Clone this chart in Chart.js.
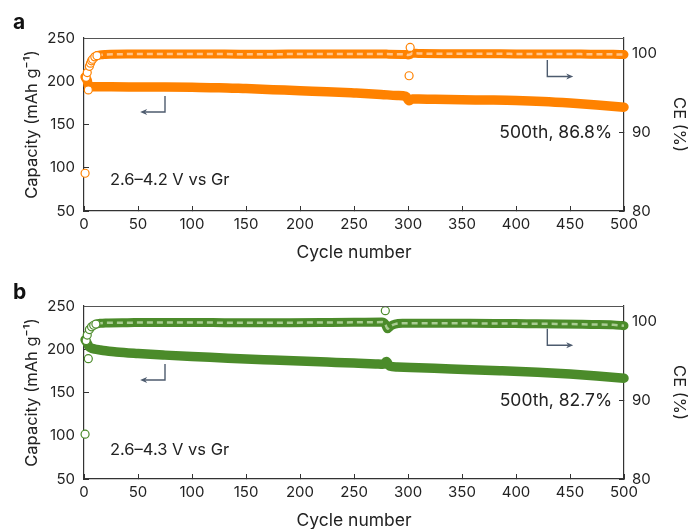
<!DOCTYPE html>
<html>
<head>
<meta charset="utf-8">
<title>Capacity and CE vs cycle number</title>
<script src="https://cdn.jsdelivr.net/npm/chart.js@4.4.1/dist/chart.umd.min.js"></script>
<style>
  body { margin: 0; background: #fff; }
  .panel { position: absolute; left: 0; width: 688px; }
</style>
</head>
<body>
<div class="panel" style="top:0;height:264px"><canvas id="chartA" width="688" height="264"></canvas></div>
<div class="panel" style="top:264px;height:265px"><canvas id="chartB" width="688" height="265"></canvas></div>
<script>
// ---- panel a (2.6-4.2 V) ----
var capCyclesA = [1, 2, 3, 4, 6, 10, 25, 50, 75, 100, 125, 150, 175, 200, 225, 250, 275, 290, 298, 301, 304, 310, 325, 350, 375, 400, 425, 450, 475, 500];
var capacityA  = [205, 203, 201, 194.5, 193.5, 193.5, 193.5, 193.4, 193.3, 193.0, 192.6, 191.5, 190.3, 189.0, 188.0, 186.5, 184.8, 183.5, 182.5, 177.5, 179.6, 179.5, 179.1, 178.6, 178.3, 177.8, 176.7, 174.9, 172.6, 170.0];
var ceOutCyclesA = [1, 4, 301, 302];
var ceOutA       = [84.8, 95.4, 97.2, 100.8];
var ceArcCyclesA = [2, 3, 5, 6, 7, 8, 10, 12];
var ceArcA       = [97.0, 97.6, 98.4, 98.8, 99.1, 99.3, 99.6, 99.75];
var ceCyclesA = [12, 15, 20, 40, 60, 80, 100, 130, 160, 190, 220, 250, 280, 298, 300, 302, 304, 307, 312, 340, 370, 400, 430, 460, 490, 500];
var ceA       = [99.75, 99.85, 99.9, 99.95, 99.95, 99.97, 99.95, 99.95, 99.94, 99.95, 99.95, 99.96, 99.95, 99.9, 99.85, 99.9, 100.05, 100.05, 100.02, 100.0, 100.0, 99.98, 99.98, 99.95, 99.92, 99.9];

// ---- panel b (2.6-4.3 V) ----
var capCyclesB = [1, 2, 3, 4, 5, 7, 10, 15, 20, 30, 50, 75, 100, 125, 150, 175, 200, 225, 250, 270, 277, 280, 283, 290, 310, 340, 385, 420, 450, 475, 500];
var capacityB  = [211, 209, 207, 204.5, 202.5, 201.2, 200.2, 199.2, 198.3, 196.8, 195.0, 193.2, 191.6, 190.2, 188.8, 187.6, 186.4, 185.2, 184.0, 183.0, 182.6, 185.8, 180.6, 179.5, 178.6, 177.2, 175.2, 173.4, 171.4, 169.2, 166.5];
var ceOutCyclesB = [1, 4, 279];
var ceOutB       = [85.7, 95.3, 101.4];
var ceArcCyclesB = [2, 3, 5, 7, 9, 11];
var ceArcB       = [97.6, 98.3, 99.0, 99.35, 99.55, 99.7];
var ceCyclesB = [12, 15, 20, 40, 70, 100, 130, 160, 190, 220, 250, 276, 279, 281, 284, 288, 295, 320, 350, 380, 410, 440, 470, 490, 500];
var ceB       = [99.72, 99.8, 99.85, 99.88, 99.9, 99.9, 99.88, 99.86, 99.88, 99.9, 99.92, 99.95, 99.7, 99.1, 99.45, 99.7, 99.8, 99.82, 99.8, 99.78, 99.75, 99.72, 99.65, 99.6, 99.5];

var xTicks = [0, 50, 100, 150, 200, 250, 300, 350, 400, 450, 500];
var capTicks = [50, 100, 150, 200, 250];
var ceTicks = [80, 90, 100];

var FONT = 'Inter, "DejaVu Sans", sans-serif';
var INK = '#222';
var AXIS = '#333';
var ARROW = '#4d5b6e';

function pts(xs, ys) {
  return xs.map(function (c, i) { return {x: c, y: ys[i]}; });
}

// letters, notes and the little axis-pointing arrows
var extras = {
  id: 'extras',
  afterDraw: function (chart, args, o) {
    var ctx = chart.ctx, x = chart.scales.x, y = chart.scales.y, y1 = chart.scales.y1;
    var area = chart.chartArea;
    ctx.save();
    // top frame line
    ctx.strokeStyle = '#555';
    ctx.lineWidth = 1;
    ctx.beginPath();
    ctx.moveTo(area.left, area.top + 0.5);
    ctx.lineTo(area.right, area.top + 0.5);
    ctx.stroke();

    ctx.fillStyle = '#111';
    ctx.font = 'bold 21px ' + FONT;
    ctx.textAlign = 'left';
    ctx.textBaseline = 'alphabetic';
    ctx.fillText(o.letter, 13, o.letterY);

    ctx.fillStyle = INK;
    ctx.font = '16.5px ' + FONT;
    ctx.textBaseline = 'middle';
    ctx.fillText(o.range, x.getPixelForValue(24), y.getPixelForValue(o.rangeCap));
    ctx.font = '17.5px ' + FONT;
    ctx.textAlign = 'right';
    ctx.fillText(o.note, x.getPixelForValue(489), y1.getPixelForValue(90));

    function arrow(xv1, yv1, yv2, xv2, sc, dir) {
      var px = x.getPixelForValue(xv1), py1 = sc.getPixelForValue(yv1), py2 = sc.getPixelForValue(yv2);
      var ex = x.getPixelForValue(xv2);
      ctx.strokeStyle = ARROW;
      ctx.fillStyle = ARROW;
      ctx.lineWidth = 1.4;
      ctx.beginPath();
      ctx.moveTo(px, py1);
      ctx.lineTo(px, py2);
      ctx.lineTo(ex - dir * 5, py2);
      ctx.stroke();
      ctx.beginPath();
      ctx.moveTo(ex, py2);
      ctx.lineTo(ex - dir * 7, py2 - 3);
      ctx.lineTo(ex - dir * 5, py2);
      ctx.lineTo(ex - dir * 7, py2 + 3);
      ctx.closePath();
      ctx.fill();
    }
    arrow(75, 183, 164.5, 52, y, -1);
    arrow(429, o.arrowCe[0], o.arrowCe[1], 453, y1, 1);
    ctx.restore();
  }
};

function makeChart(id, cfg) {
  var main = cfg.color, light = cfg.light;
  var tickFont = {family: FONT, size: 15};
  var titleFont = {family: FONT, size: 17.5};
  return new Chart(document.getElementById(id), {
    type: 'scatter',
    data: {
      datasets: [
        { data: pts(cfg.outX, cfg.outY), yAxisID: 'y1', showLine: false,
          pointRadius: 4, pointBorderWidth: 1.2, pointBorderColor: main, pointBackgroundColor: '#fff' },
        { data: pts(cfg.arcX, cfg.arcY), yAxisID: 'y1', showLine: false,
          pointRadius: 4, pointBorderWidth: 1.2, pointBorderColor: main, pointBackgroundColor: '#fff' },
        { data: pts(cfg.ceX, cfg.ceY), yAxisID: 'y1', showLine: true, pointRadius: 0,
          borderColor: light, borderWidth: 2.5, borderDash: [6, 4], cubicInterpolationMode: 'monotone' },
        { data: pts(cfg.ceX, cfg.ceY), yAxisID: 'y1', showLine: true, pointRadius: 0,
          borderColor: main, borderWidth: 9, borderCapStyle: 'round', borderJoinStyle: 'round',
          cubicInterpolationMode: 'monotone' },
        { data: pts(cfg.capX, cfg.capY), yAxisID: 'y', showLine: true, pointRadius: 0,
          borderColor: main, borderWidth: 9.5, borderCapStyle: 'round', borderJoinStyle: 'round',
          cubicInterpolationMode: 'monotone' }
      ]
    },
    options: {
      responsive: false,
      animation: false,
      clip: false,
      layout: { padding: { top: cfg.top, left: 0, right: 0, bottom: 0 } },
      plugins: {
        legend: { display: false },
        tooltip: { enabled: false },
        extras: cfg.extras
      },
      scales: {
        x: {
          type: 'linear', position: 'bottom', min: 0, max: 500,
          afterBuildTicks: function (s) { s.ticks = xTicks.map(function (v) { return {value: v}; }); },
          afterFit: function (s) { s.height = cfg.xHeight; },
          grid: { display: true, drawOnChartArea: false, drawTicks: true, tickLength: -5, color: AXIS },
          border: { display: true, color: AXIS, width: 1.2 },
          ticks: { font: tickFont, color: INK, padding: 9, maxRotation: 0 },
          title: { display: true, text: 'Cycle number', font: titleFont, color: INK,
                   padding: { top: 0, bottom: cfg.xTitlePad } }
        },
        y: {
          type: 'linear', position: 'left', min: 50, max: 250,
          afterBuildTicks: function (s) { s.ticks = capTicks.map(function (v) { return {value: v}; }); },
          afterFit: function (s) { s.width = 84; },
          grid: { display: true, drawOnChartArea: false, drawTicks: true, tickLength: -5, color: AXIS },
          border: { display: true, color: AXIS, width: 1.2 },
          ticks: { font: tickFont, color: INK, padding: 14 },
          title: { display: true, text: 'Capacity (mAh g\u207B\u00B9)', font: {family: FONT, size: 16.5}, color: INK,
                   padding: { top: 22, bottom: 0 } }
        },
        y1: {
          type: 'linear', position: 'right', min: 80, max: 102,
          afterBuildTicks: function (s) { s.ticks = ceTicks.map(function (v) { return {value: v}; }); },
          afterFit: function (s) { s.width = 64; },
          grid: { display: true, drawOnChartArea: false, drawTicks: true, tickLength: -5, color: AXIS },
          border: { display: true, color: AXIS, width: 1.2 },
          ticks: { font: tickFont, color: INK, padding: 13 },
          title: { display: true, text: 'CE (%)', font: {family: FONT, size: 16.5}, color: INK,
                   padding: { top: -1, bottom: 0 } }
        }
      }
    },
    plugins: [extras]
  });
}

makeChart('chartA', {
  color: '#ff8200', light: '#ffc48a', top: 38, xHeight: 53, xTitlePad: 0.5,
  capX: capCyclesA, capY: capacityA, ceX: ceCyclesA, ceY: ceA,
  arcX: ceArcCyclesA, arcY: ceArcA, outX: ceOutCyclesA, outY: ceOutA,
  extras: { letter: 'a', letterY: 29, range: '2.6\u20134.2 V vs Gr', rangeCap: 86,
            note: '500th, 86.8%', arrowCe: [99.2, 97.1] }
});

makeChart('chartB', {
  color: '#4b8b2a', light: '#a9cc92', top: 42, xHeight: 50, xTitlePad: -2.5,
  capX: capCyclesB, capY: capacityB, ceX: ceCyclesB, ceY: ceB,
  arcX: ceArcCyclesB, arcY: ceArcB, outX: ceOutCyclesB, outY: ceOutB,
  extras: { letter: 'b', letterY: 35, range: '2.6\u20134.3 V vs Gr', rangeCap: 83.5,
            note: '500th, 82.7%', arrowCe: [99.1, 97.0] }
});
</script>
</body>
</html>
